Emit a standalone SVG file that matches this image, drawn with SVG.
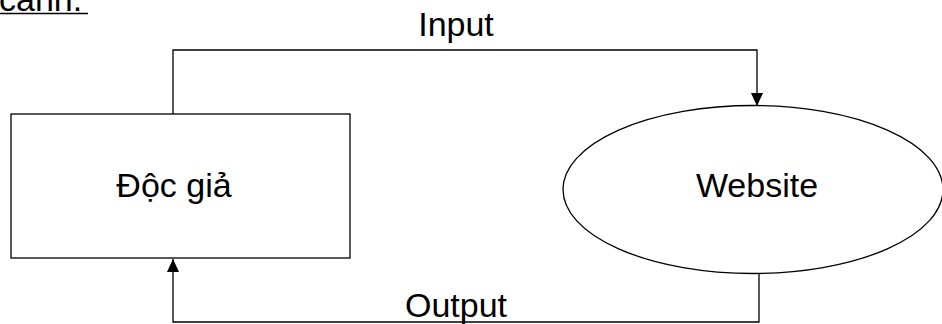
<svg xmlns="http://www.w3.org/2000/svg" width="942" height="324" viewBox="0 0 942 324">
<style>
text{font-family:"Liberation Sans",Arial,sans-serif;font-size:34px;fill:#000}
.shape{fill:#fff;stroke:#000;stroke-width:1.3}
.conn{fill:none;stroke:#000;stroke-width:1.3}
</style>
<defs>
<marker id="arr" markerWidth="13" markerHeight="15" refX="14" refY="6.5" orient="auto" markerUnits="userSpaceOnUse" viewBox="0 0 14 13">
<path d="M0,0 L14,6.5 L0,13 Z" fill="#000"/>
</marker>
</defs>
<rect width="942" height="324" fill="#fff"/>
<g id="title">
<text x="-1" y="11">cảnh.</text>
<line x1="0" y1="13.5" x2="88" y2="13.5" stroke="#000" stroke-width="1.6"/>
</g>
<g id="connectors">
<polyline class="conn" points="173,114 173,50 757,50 757,106" marker-end="url(#arr)"/>
<polyline class="conn" points="759,273 759,322 173,322 173,259" marker-end="url(#arr)"/>
<text x="456" y="36" text-anchor="middle">Input</text>
<text x="456" y="317" text-anchor="middle">Output</text>
</g>
<g id="doc-gia">
<rect class="shape" x="11" y="114" width="339" height="144"/>
<text x="174" y="197" text-anchor="middle">Độc giả</text>
</g>
<g id="website">
<ellipse class="shape" cx="753" cy="189.5" rx="190" ry="84"/>
<text x="757" y="197" text-anchor="middle">Website</text>
</g>
</svg>
